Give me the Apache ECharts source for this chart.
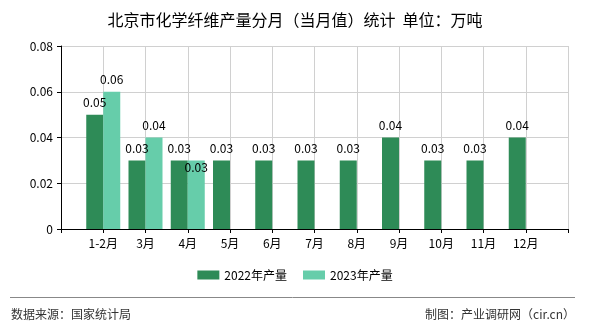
<!DOCTYPE html>
<html><head><meta charset="utf-8">
<script src="https://cdn.jsdelivr.net/npm/echarts@6/dist/echarts.min.js"></script>
<style>html,body{margin:0;padding:0;background:#fff}#c{width:590px;height:330px}</style>
</head><body><div id="c"></div>
<script>
const categories = ['', '1-2月', '3月', '4月', '5月', '6月', '7月', '8月', '9月', '10月', '11月', '12月', ''];
const values2022 = [null, 0.05, 0.03, 0.03, 0.03, 0.03, 0.03, 0.03, 0.04, 0.03, 0.03, 0.04, null];
const values2023 = [null, 0.06, 0.04, 0.03, null, null, null, null, null, null, null, null, null];
const seriesNames = ['2022年产量', '2023年产量'];
const yTicks = [0, 0.02, 0.04, 0.06, 0.08];

const chart = echarts.init(document.getElementById('c'));
const font = '"Noto Sans CJK SC", sans-serif';
const lbl = {show: true, position: 'top', distance: 6, color: '#000', fontSize: 12, fontFamily: font,
  formatter: p => p.value == null ? '' : p.value.toFixed(2)};
chart.setOption({
  animation: false,
  title: {text: '北京市化学纤维产量分月（当月值）统计  单位：万吨', left: 'center', top: 7,
    textStyle: {fontSize: 16, fontWeight: 'normal', color: '#000', fontFamily: font}},
  grid: {left: 61, right: 22, top: 46, bottom: 101},
  legend: {bottom: 44, itemWidth: 22, itemHeight: 9, itemGap: 16, icon: 'rect',
    textStyle: {fontSize: 12, color: '#000', fontFamily: font}},
  xAxis: {type: 'category', data: categories, boundaryGap: false,
    axisLine: {lineStyle: {color: '#000'}},
    axisTick: {length: 4, lineStyle: {color: '#000'}},
    axisLabel: {color: '#000', fontSize: 12, fontFamily: font, margin: 8, interval: 0},
    splitLine: {show: true, lineStyle: {color: '#d0d0d0'}}},
  yAxis: {type: 'value', min: yTicks[0], max: yTicks[yTicks.length - 1], interval: 0.02,
    axisLine: {show: true, lineStyle: {color: '#000'}},
    axisTick: {show: true, length: 4, lineStyle: {color: '#000'}},
    axisLabel: {color: '#000', fontSize: 12, fontFamily: font, margin: 8,
      formatter: v => v === 0 ? '0' : v.toFixed(2)},
    splitLine: {lineStyle: {color: '#d0d0d0'}}},
  series: [
    {name: seriesNames[0], type: 'bar', data: values2022, barWidth: 17, barGap: '0%',
      itemStyle: {color: '#2e8b57'}, label: lbl},
    {name: seriesNames[1], type: 'bar', data: values2023.map((v, i) => i === 3 ? {value: v, label: {position: 'insideTop', distance: 1}} : v),
      barWidth: 17, itemStyle: {color: '#66cdaa'}, label: lbl}
  ],
  graphic: [
    {type: 'line', shape: {x1: 10, y1: 297.5, x2: 575, y2: 297.5}, style: {stroke: '#888', lineWidth: 1}},
    {type: 'text', left: 11, top: 308, style: {text: '数据来源：国家统计局', fontSize: 12, fill: '#333', fontFamily: font}},
    {type: 'text', right: 15, top: 308, style: {text: '制图：产业调研网（cir.cn）', fontSize: 12, fill: '#333', fontFamily: font}}
  ]
});
</script></body></html>
